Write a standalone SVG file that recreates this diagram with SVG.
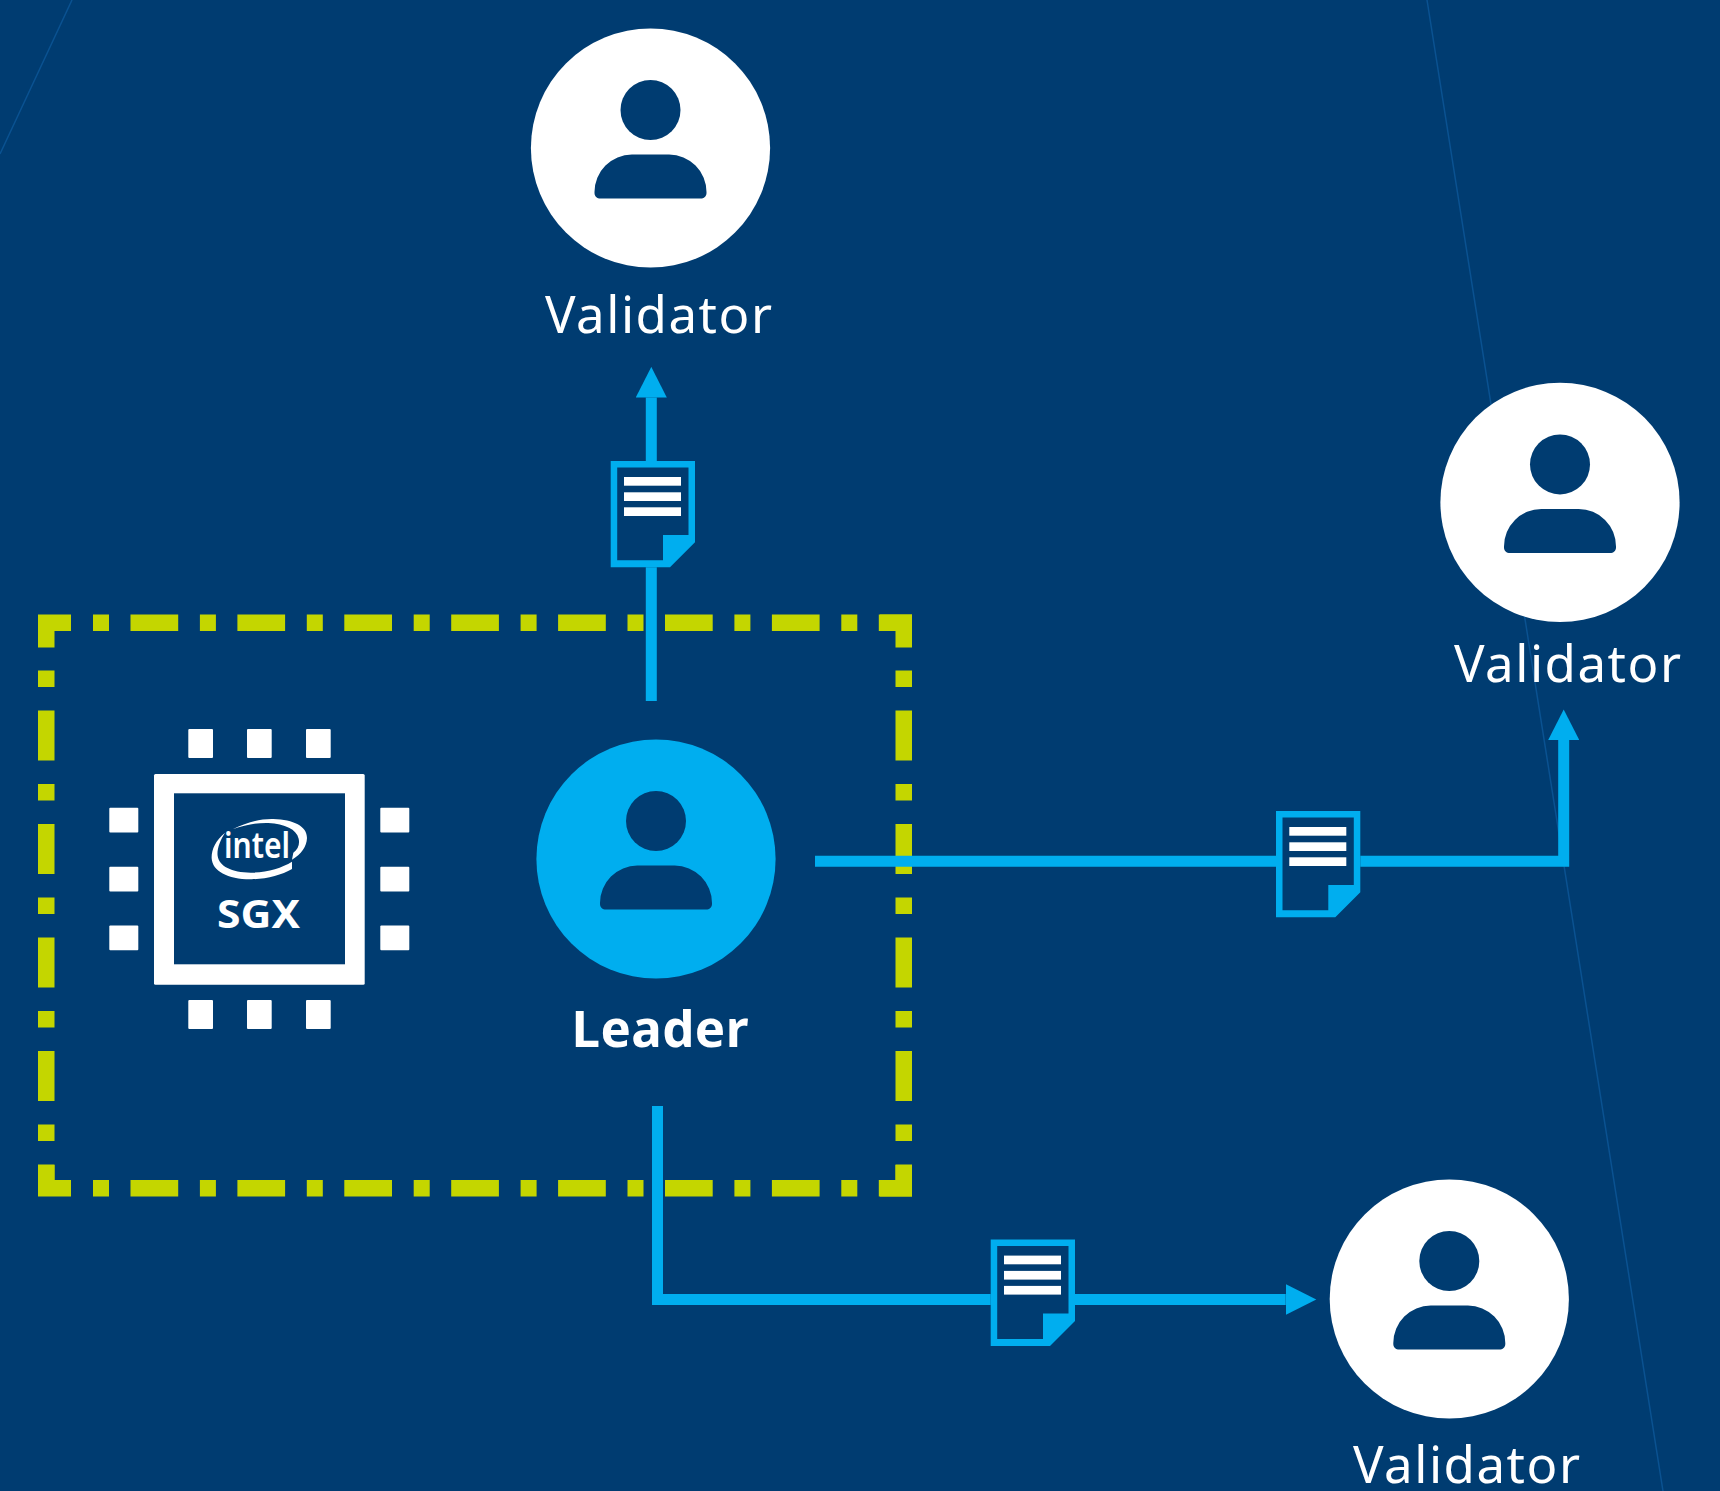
<svg xmlns="http://www.w3.org/2000/svg" xmlns:xlink="http://www.w3.org/1999/xlink" width="1720" height="1491" viewBox="0 0 1720 1491">
<style>
.bg{fill:#003c71}
.hair{fill:none;stroke:#0a5291;stroke-width:1.5}
.hd{fill:none;stroke:#c4d600;stroke-width:16.5}
.hx{stroke-dasharray:16 21.5 47.7 21.7}
.vy{stroke-dasharray:16.5 23.5 50 23.5}
.cn{fill:none;stroke:#00aeef;stroke-width:11}
.w{fill:#fff}
.b{fill:#00aeef}
.d{fill:#003c71}
.lab{font-family:"Noto Sans","Open Sans",sans-serif;font-size:51px;fill:#fff}
.bold{font-weight:700}
</style>
<defs>
<marker id="ah" markerUnits="userSpaceOnUse" markerWidth="31" markerHeight="31" viewBox="0 0 31 31" refX="0" refY="15.5" orient="auto"><path d="M0 0L30.6 15.5L0 31Z" fill="#00aeef"/></marker>
<g id="person"><circle cx="0" cy="-38" r="30" class="d"/><path class="d" d="M-56 44A37.4 37.4 0 0 1-18.6 6.6H18.6A37.4 37.4 0 0 1 56 44V45C56 48.5 53.5 50.5 50 50.5H-50C-53.5 50.5-56 48.5-56 45Z"/></g>
<g id="doc"><path class="d" d="M0 0H84.3V81.3L59.3 106.3H0Z"/><path class="b" fill-rule="evenodd" d="M0 0H84.3V81.3L59.3 106.3H0ZM6.5 6.5V99.3H52.3V74H77.8V6.5Z"/><rect class="w" x="13.3" y="16" width="57" height="8.7"/><rect class="w" x="13.3" y="31.3" width="57" height="8.7"/><rect class="w" x="13.3" y="46.3" width="57" height="8.7"/></g>
</defs>
<rect class="bg" width="1720" height="1491"/>
<path class="hair" d="M72 0L0 154M1427 0L1663 1491"/>
<g id="enclave-frame">
<path class="hd hx" d="M93 622.75H912"/>
<path class="hd hx" d="M93 1188.25H912"/>
<path class="hd vy" d="M46.25 670.5V1196"/>
<path class="hd vy" d="M903.75 670.5V1196"/>
<path class="hd" d="M46.25 647.5V622.75H71"/>
<path class="hd" d="M880 622.75H903.75V647.5"/>
<path class="hd" d="M46.25 1165V1188.25H71"/>
<path class="hd" d="M880 1188.25H903.75V1165"/>
</g>
<g id="connectors">
<path class="cn" d="M651.3 701V397.5" marker-end="url(#ah)"/>
<path class="cn" d="M815 861.3H1563.7V740" marker-end="url(#ah)"/>
<path class="cn" d="M657.5 1106V1299.5H1285.7" marker-end="url(#ah)"/>
</g>
<g id="sgx-chip">
<rect class="w" x="154" y="774" width="210.7" height="210.7" rx="1.5"/>
<rect class="d" x="174" y="793.3" width="171" height="171"/>
<g class="w">
<rect x="188.3" y="729" width="24.7" height="29" rx="1"/><rect x="247" y="729" width="24.7" height="29" rx="1"/><rect x="306" y="729" width="24.7" height="29" rx="1"/>
<rect x="188.3" y="1000" width="24.7" height="29" rx="1"/><rect x="247" y="1000" width="24.7" height="29" rx="1"/><rect x="306" y="1000" width="24.7" height="29" rx="1"/>
<rect x="109.3" y="807.7" width="29" height="24.7" rx="1"/><rect x="109.3" y="866.7" width="29" height="24.7" rx="1"/><rect x="109.3" y="925.5" width="29" height="24.7" rx="1"/>
<rect x="380.3" y="807.7" width="29" height="24.7" rx="1"/><rect x="380.3" y="866.7" width="29" height="24.7" rx="1"/><rect x="380.3" y="925.5" width="29" height="24.7" rx="1"/>
</g>
<path class="w" transform="translate(90 710) scale(.3333)" d="M405 368C376 392 364 420 365 445C367 484 415 509 485 508C530 507 575 495 606 477L606 455C575 474 530 488 482 488C425 488 387 468 383 438C380 418 390 392 405 368ZM428 358C470 337 510 326 550 327C612 329 652 349 651 385C650 410 634 433 606 449L610 428C624 418 630 402 626 386C620 358 585 342 535 339C500 338 465 345 428 358Z"/>
<text x="224" y="858" font-family="'Noto Sans','Open Sans',sans-serif" font-size="36" font-weight="600" fill="#fff" textLength="66" lengthAdjust="spacingAndGlyphs">intel</text>
<text x="258.5" y="928" text-anchor="middle" font-family="'Noto Sans','Open Sans',sans-serif" font-size="40" font-weight="700" fill="#fff" textLength="83" lengthAdjust="spacingAndGlyphs">SGX</text>
</g>
<g id="doc-top"><use href="#doc" x="610.7" y="461"/></g>
<g id="doc-right"><use href="#doc" x="1276" y="811"/></g>
<g id="doc-bottom"><use href="#doc" x="990.7" y="1239.6"/></g>
<g id="validator-top"><circle class="w" cx="650.5" cy="148" r="119.6"/><use href="#person" x="650.5" y="148"/><text class="lab" x="545" y="333" textLength="227" lengthAdjust="spacing">Validator</text></g>
<g id="validator-right"><circle class="w" cx="1560" cy="502.4" r="119.6"/><use href="#person" x="1560" y="502.4"/><text class="lab" x="1454" y="681.7" textLength="227" lengthAdjust="spacing">Validator</text></g>
<g id="validator-bottom"><circle class="w" cx="1449.3" cy="1299" r="119.6"/><use href="#person" x="1449.3" y="1299"/><text class="lab" x="1353" y="1482.5" textLength="227" lengthAdjust="spacing">Validator</text></g>
<g id="leader"><circle class="b" cx="656" cy="859" r="119.6"/><use href="#person" x="656" y="859"/><text class="lab bold" x="571.5" y="1047" textLength="177" lengthAdjust="spacing">Leader</text></g>
</svg>
